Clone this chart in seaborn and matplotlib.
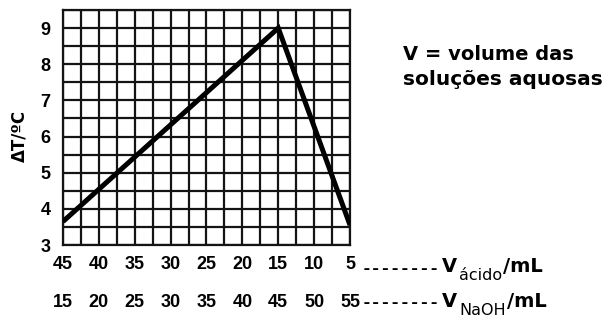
import numpy as np
import pandas as pd
import matplotlib
matplotlib.use("Agg")
import matplotlib.pyplot as plt
import seaborn as sns

# Titration curve: temperature rise vs. volumes of acid / NaOH
acid_volume = [45, 15, 5]          # mL of acid
delta_t = [3.65, 9.0, 3.55]        # ΔT in ºC
acid_ticks = [45, 40, 35, 30, 25, 20, 15, 10, 5]
naoh_ticks = [15, 20, 25, 30, 35, 40, 45, 50, 55]
y_ticks = [3, 4, 5, 6, 7, 8, 9]

sns.set_theme(style="white")
plt.rcParams["font.family"] = ["Liberation Sans", "DejaVu Sans"]
plt.rcParams.update({"text.color": "black", "axes.labelcolor": "black",
                     "xtick.color": "black", "ytick.color": "black"})

df = pd.DataFrame({"acid": acid_volume, "dT": delta_t})

W, H = 613, 320
fig = plt.figure(figsize=(W / 100, H / 100), dpi=100)
ax = fig.add_axes([63 / W, 1 - 245 / H, (350 - 63) / W, (245 - 10) / H])

grid_col = "#141414"
ax.set_xlim(45, 5)
ax.set_ylim(3, 9.5)
for s in ax.spines.values():
    s.set_color(grid_col)
    s.set_linewidth(1.6)
ax.set_axisbelow(True)

sns.lineplot(data=df, x="acid", y="dT", ax=ax, color="black", linewidth=3.6,
             solid_capstyle="butt", solid_joinstyle="miter", zorder=5)

ax.set_xticks(acid_ticks)
ax.set_xticks(np.arange(45, 4, -2.5), minor=True)
ax.set_yticks(y_ticks)
ax.set_yticks(np.arange(3, 9.51, 0.5), minor=True)
ax.grid(True, which="both", color=grid_col, linewidth=1.6)
tick_font = dict(fontsize=13, fontweight="bold")
ax.set_xticklabels([str(v) for v in acid_ticks], **tick_font)
ax.set_yticklabels([str(v) for v in y_ticks], **tick_font)
ax.tick_params(axis="both", which="both", length=0, colors="black")
ax.tick_params(axis="y", pad=9)
ax.tick_params(axis="x", pad=8)
ax.set_xlabel("")
ax.set_ylabel("ΔT/ºC", fontsize=12, fontweight="bold", family="DejaVu Sans")
ax.yaxis.set_label_coords(-0.122, 0.464)

# second row of labels: NaOH volume
sec = ax.secondary_xaxis(-0.21)
sec.set_xticks(acid_ticks)
sec.set_xticklabels([str(v) for v in naoh_ticks], **tick_font)
sec.tick_params(length=0, pad=0, colors="black")
sec.spines["bottom"].set_visible(False)

renderer = fig.canvas.get_renderer()


def put(x_px, y_px, s, **kw):
    """Place text with its left edge at x_px and baseline at y_px (pixels from
    the top-left corner); return the right edge in pixels."""
    t = fig.text(x_px / W, 1 - y_px / H, s, ha="left", va="baseline", **kw)
    return t.get_window_extent(renderer).x1


wide_bold = dict(family="DejaVu Sans", fontweight="bold")

# row captions on the right
for y_base, sub in [(272, "ácido"), (307, "NaOH")]:
    put(362, y_base + 0.5, "--------", fontsize=11.6, family="DejaVu Sans Mono",
        fontweight="bold")
    x = put(442, y_base, "V", fontsize=14, **wide_bold)
    x = put(x + 2, y_base + 8, sub, fontsize=11.5, family="DejaVu Sans")
    put(x + 1, y_base, "/mL", fontsize=14, **wide_bold)

put(403, 60, "V = volume das", fontsize=14, **wide_bold)
put(403, 85, "soluções aquosas", fontsize=14.5, **wide_bold)

fig.savefig("out.png", dpi=100, facecolor="white")
